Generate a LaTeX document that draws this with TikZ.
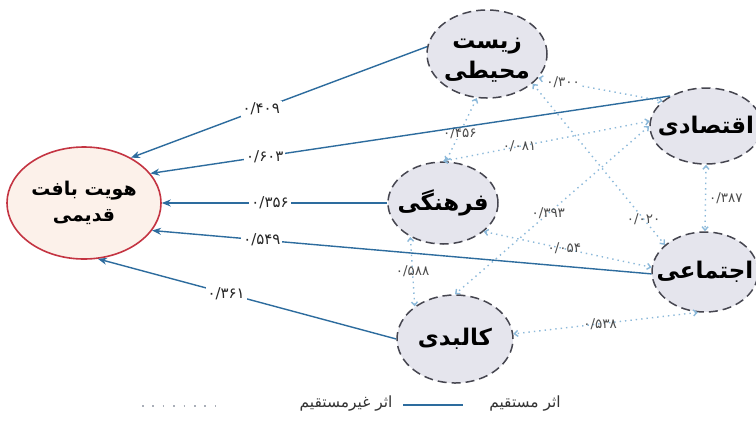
\documentclass[tikz,border=0pt]{standalone}
\usepackage{fontspec}
\newfontfamily\fa[Script=Arabic]{DejaVu Sans}
\TeXXeTstate=1
\usetikzlibrary{arrows.meta,shapes.geometric}
\definecolor{directc}{RGB}{45,108,158}
\definecolor{indirectc}{RGB}{140,185,218}
\definecolor{nodeline}{RGB}{70,70,80}
\definecolor{nodefill}{RGB}{229,229,237}
\definecolor{mainline}{RGB}{196,52,66}
\definecolor{mainfill}{RGB}{252,241,234}
\definecolor{legdot}{RGB}{170,175,185}
\begin{document}
\begin{tikzpicture}[x=1bp,y=-1bp,
  factor/.style={ellipse, draw=nodeline, line width=1.5bp, dash pattern=on 9bp off 5bp,
    fill=nodefill, inner sep=0pt},
  ftext/.style={inner sep=0pt, align=center, font=\fa\bfseries\fontsize{23}{30}\selectfont},
  mainnode/.style={ellipse, draw=mainline, line width=1.6bp, fill=mainfill, inner sep=0pt,
    align=center, font=\fa\bfseries\fontsize{19}{26}\selectfont},
  direct/.style={draw=directc, line width=1.4bp, -{Stealth[length=9bp,width=7bp]}},
  indirect/.style={draw=indirectc, line width=1.4bp, dash pattern=on 1.4bp off 4bp,
    {Straight Barb[length=3.5bp,width=6bp]}-{Straight Barb[length=3.5bp,width=6bp]}},
  wlbl/.style={fill=white, inner sep=2bp, font=\fa\fontsize{15}{17}\selectfont, text=black!85},
  ilbl/.style={inner sep=1bp, font=\fa\fontsize{13.5}{15}\selectfont, text=black!70},
  legtext/.style={inner sep=0pt, font=\fa\fontsize{15.5}{18}\selectfont, text=black!80},
]
\fill[white] (0,0) rectangle (756,420);
\useasboundingbox (0,0) rectangle (756,420);

% nodes
\node[mainnode, minimum width=154bp, minimum height=112bp] (H) at (84,203)
  {\beginR هویت بافت\endR\\\beginR قدیمی\endR};
\node[factor, minimum width=120bp, minimum height=88bp] (Z) at (487,54) {};
\node[factor, minimum width=112bp, minimum height=76bp] (E) at (706,126) {};
\node[factor, minimum width=110bp, minimum height=82bp] (F) at (443,203) {};
\node[factor, minimum width=106bp, minimum height=80bp] (S) at (705,272) {};
\node[factor, minimum width=116bp, minimum height=88bp] (K) at (455,339) {};
\node[ftext] (Zt) at (487,60) {\beginR زیست\endR\\\beginR محیطی\endR};
\node[ftext] (Et) at (E) {\beginR اقتصادی\endR};
\node[ftext] (Ft) at (F) {\beginR فرهنگی\endR};
\node[ftext] (St) at (S) {\beginR اجتماعی\endR};
\node[ftext] (Kt) at (K) {\beginR کالبدی\endR};

% indirect effects
\draw[indirect] (Z.-25) -- node[ilbl, fill=white, pos=0.2] (l1) {۰/۳۰۰} (E.150);
\draw[indirect] (Z.-103) -- node[ilbl, fill=white, pos=0.55] (l2) {۰/۴۵۶} (F.86);
\draw[indirect] (E.175) -- node[ilbl, pos=0.63] (l3) {۰/۰۸۱} (F.90);
\draw[indirect] (E.-90) -- node[ilbl, right=2bp] (l4) {۰/۳۸۷} (S.90);
\draw[indirect] (Z.-33) -- node[ilbl, pos=0.84] (l5) {۰/۰۲۰} (S.146);
\draw[indirect] (E.180) -- node[ilbl, pos=0.52] (l6) {۰/۳۹۳} (K.90);
\draw[indirect] (F.-35) -- node[ilbl, pos=0.48] (l7) {۰/۰۵۴} (S.175);
\draw[indirect] (F.-134) -- node[ilbl, pos=0.5] (l8) {۰/۵۸۸} (K.141);
\draw[indirect] (S.-100) -- node[ilbl, pos=0.53] (l9) {۰/۵۳۸} (K.5);

% direct effects
\draw[direct] (Z.173) -- node[wlbl, pos=0.56] (d1) {۰/۴۰۹} (H.44);
\draw[direct] (E.140) -- node[wlbl, pos=0.78] (d2) {۰/۶۰۳} (H.24);
\draw[direct] (F.180) -- node[wlbl, pos=0.52] (d3) {۰/۳۵۶} (H.0);
\draw[direct] (S.182) -- node[wlbl, pos=0.78] (d4) {۰/۵۴۹} (H.-22);
\draw[direct] (K.180) -- node[wlbl, pos=0.57] (d5) {۰/۳۶۱} (H.-76);

% legend
\coordinate (ls1) at (403,405);
\coordinate (ls2) at (463,405);
\coordinate (li1) at (142,406);
\coordinate (li2) at (216,406);
\draw[draw=directc, line width=1.4bp] (ls1) -- (ls2);
\draw[draw=legdot, line width=1.6bp, dash pattern=on 1.6bp off 8.8bp] (li1) -- (li2);
\node[legtext] (t1) at (525,404) {\beginR اثر مستقیم\endR};
\node[legtext] (t2) at (346,404) {\beginR اثر غیرمستقیم\endR};
\end{tikzpicture}
\end{document}
